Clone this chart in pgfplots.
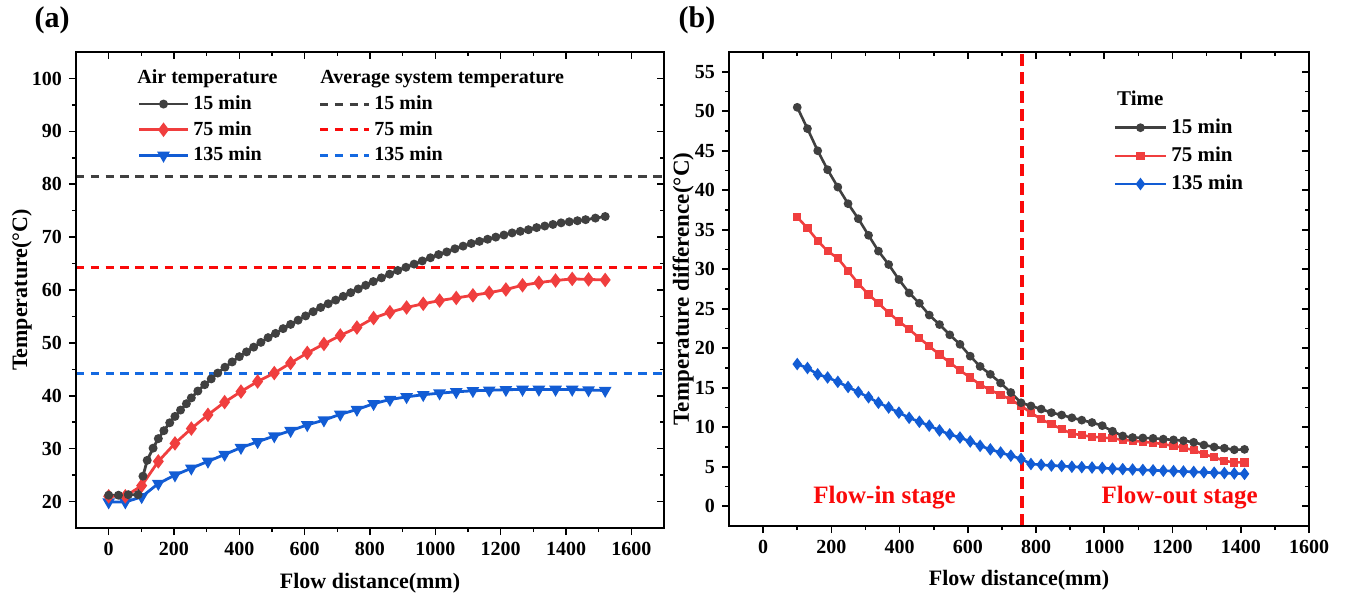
\documentclass[border=0pt]{standalone}
\usepackage{pgfplots}
\pgfplotsset{compat=1.18}
\usepackage{fontspec}
\setmainfont{Liberation Serif}

\definecolor{cK}{RGB}{64,64,64}
\definecolor{cR}{RGB}{240,62,62}
\definecolor{cB}{RGB}{18,92,212}
\definecolor{cRd}{RGB}{250,10,10}
\definecolor{cBd}{RGB}{20,105,225}

\pgfplotsset{
  base/.style={scale only axis, anchor=south west,
    axis line style={line width=1pt},
    major tick length=3.5pt, minor tick length=2pt,
    every tick/.style={black, line width=0.8pt},
    /pgf/number format/assume math mode=true,
    /pgf/number format/1000 sep={},
    ticklabel style={font=\bfseries\fontsize{10}{12}\selectfont},
    label style={font=\bfseries\fontsize{11}{13}\selectfont}},
  sK/.style={color=cK, line width=1.4pt, mark=*, mark size=1.5pt},
  sR/.style={color=cR, line width=1.4pt, mark=diamond*, mark size=2.5pt},
  sB/.style={color=cB, line width=1.4pt, mark=triangle*, mark size=2.3pt, mark options={rotate=180}},
  dK/.style={color=cK, line width=1.5pt, dash pattern=on 4.2pt off 3.2pt},
  dR/.style={color=cRd, line width=1.5pt, dash pattern=on 4.2pt off 3.2pt},
  dB/.style={color=cBd, line width=1.5pt, dash pattern=on 4.2pt off 3.2pt},
  tK/.style={color=cK, line width=1.3pt, mark=*, mark size=1.5pt},
  tR/.style={color=cR, line width=1.3pt, mark=square*, mark size=1.4pt},
  tB/.style={color=cB, line width=1.3pt, mark=diamond*, mark size=2.1pt},
}

\begin{document}
\begin{tikzpicture}[font=\bfseries]
\path[use as bounding box] (0pt,0pt) rectangle (673pt,-298pt);

\node[font=\bfseries\fontsize{15}{17}\selectfont] at (26pt,-10pt) {(a)};
\node[font=\bfseries\fontsize{15}{17}\selectfont] at (348.5pt,-10pt) {(b)};

% ---------------- Panel (a) ----------------
\begin{axis}[base, at={(38pt,-264pt)}, width=294pt, height=238pt,
  xmin=-100, xmax=1700, ymin=15, ymax=105,
  xtick={0,200,...,1600}, ytick={20,30,...,100},
  minor x tick num=1, minor y tick num=1,
  tick align=outside, xtick pos=bottom, ytick pos=left,
  xlabel={Flow distance(mm)}, ylabel={Temperature(°C)},
  xlabel style={at={(axis description cs:0.5,-0.115)}, anchor=center},
  ylabel style={at={(axis description cs:-0.092,0.5)}, anchor=center},
  legend columns=2, legend cell align=left,
  legend image code/.code={\draw[mark repeat=2,mark phase=2] plot coordinates {(0cm,0cm) (0.43cm,0cm) (0.86cm,0cm)};},
  legend style={draw=none, fill=none, at={(axis description cs:0.094,0.98)}, anchor=north west,
    font=\bfseries\fontsize{10}{12}\selectfont,
    /tikz/every even column/.append style={column sep=18.5pt},
    row sep=0.4pt},
]
\addlegendimage{empty legend}\addlegendentry{\hspace*{-28pt}Air temperature}
\addlegendimage{empty legend}\addlegendentry{\hspace*{-27pt}Average system temperature}
\addlegendimage{sK}\addlegendentry{15 min}
\addlegendimage{dK}\addlegendentry{15 min}
\addlegendimage{sR}\addlegendentry{75 min}
\addlegendimage{dR}\addlegendentry{75 min}
\addlegendimage{sB}\addlegendentry{135 min}
\addlegendimage{dB}\addlegendentry{135 min}

\addplot[dK, forget plot] coordinates {(-100,81.5) (1700,81.5)};
\addplot[dR, forget plot] coordinates {(-100,64.2) (1700,64.2)};
\addplot[dB, forget plot] coordinates {(-100,44.3) (1700,44.3)};

\addplot[sB, forget plot] coordinates {
(0,19.9) (51,19.9) (101,20.9) (152,23.4) (203,25.0) (253,26.3) (304,27.6) (355,28.9)
(405,30.2) (456,31.3) (507,32.4) (557,33.4) (608,34.5) (659,35.4) (709,36.5) (760,37.4)
(811,38.5) (861,39.3) (912,39.8) (963,40.2) (1013,40.5) (1064,40.75) (1115,40.95) (1165,41.05)
(1216,41.15) (1267,41.2) (1317,41.2) (1368,41.2) (1419,41.2) (1469,41.1) (1520,41.0)};

\addplot[sR, forget plot] coordinates {
(0,21.0) (51,21.0) (101,23.0) (152,27.6) (203,31.0) (253,33.8) (304,36.4) (355,38.8)
(405,40.8) (456,42.7) (507,44.3) (557,46.2) (608,48.1) (659,49.8) (709,51.4) (760,52.9)
(811,54.7) (861,55.8) (912,56.7) (963,57.4) (1013,58.0) (1064,58.5) (1115,59.0) (1165,59.5)
(1216,60.1) (1267,60.9) (1317,61.4) (1368,61.8) (1419,62.1) (1469,62.0) (1520,61.9)};

\addplot[sK, forget plot] coordinates {
(0,21.2) (30,21.2) (60,21.3) (90,21.3) (105,24.8) (118,27.8) (136,30.1) (152,31.9)
(169,33.4) (187,34.9) (203,36.1) (220,37.3) (238,38.5) (253,39.6) (273,40.9) (294,42.1)
(314,43.2) (334,44.3) (356,45.4) (378,46.4) (400,47.4) (422,48.3) (444,49.2) (466,50.1)
(488,51.0) (511,51.8) (534,52.7) (557,53.5) (580,54.3) (603,55.1) (626,55.9) (649,56.7)
(672,57.4) (695,58.1) (718,58.8) (741,59.5) (764,60.2) (787,60.9) (810,61.6) (835,62.3)
(860,63.0) (885,63.7) (910,64.3) (935,64.9) (960,65.5) (985,66.1) (1010,66.7) (1035,67.2)
(1060,67.8) (1085,68.3) (1110,68.8) (1135,69.2) (1160,69.6) (1185,70.0) (1210,70.4) (1235,70.8)
(1260,71.1) (1285,71.4) (1310,71.8) (1335,72.1) (1360,72.4) (1385,72.7) (1410,72.9) (1435,73.1)
(1460,73.3) (1490,73.6) (1520,73.9)};
\end{axis}

\begin{axis}[base, at={(38pt,-264pt)}, width=294pt, height=238pt,
  xmin=-100, xmax=1700, ymin=15, ymax=105,
  xtick={0,200,...,1600}, ytick={20,30,...,100},
  minor x tick num=1, minor y tick num=1,
  tick align=inside, xtick pos=top, ytick pos=right,
  xticklabels={}, yticklabels={}]
\end{axis}

% ---------------- Panel (b) ----------------
\begin{axis}[base, at={(364.5pt,-263pt)}, width=290pt, height=237pt,
  xmin=-100, xmax=1600, ymin=-2.5, ymax=57.5,
  xtick={0,200,...,1600}, ytick={0,5,...,55},
  minor x tick num=1, minor y tick num=1,
  tick align=outside, xtick pos=bottom, ytick pos=left,
  xlabel={Flow distance(mm)}, ylabel={Temperature difference(°C)},
  xlabel style={at={(axis description cs:0.5,-0.114)}, anchor=center},
  ylabel style={at={(axis description cs:-0.079,0.5)}, anchor=center, font=\bfseries\fontsize{11.5}{13}\selectfont},
  legend cell align=left,
  legend image code/.code={\draw[mark repeat=2,mark phase=2] plot coordinates {(0cm,0cm) (0.45cm,0cm) (0.9cm,0cm)};},
  legend style={draw=none, fill=none, at={(axis description cs:0.652,0.936)}, anchor=north west,
    font=\bfseries\fontsize{10.5}{12}\selectfont, row sep=1.3pt},
]
\addlegendimage{empty legend}\addlegendentry{\hspace*{-28pt}Time}
\addlegendimage{tK}\addlegendentry{15 min}
\addlegendimage{tR}\addlegendentry{75 min}
\addlegendimage{tB}\addlegendentry{135 min}

\addplot[color=cRd, line width=2pt, dash pattern=on 6pt off 3.2pt, forget plot] coordinates {(760,-2.5) (760,57.5)};

\addplot[tB, forget plot] coordinates {
(100,18.0) (130,17.5) (160,16.7) (189,16.3) (219,15.75) (249,15.1) (279,14.45) (309,13.8)
(338,13.1) (368,12.5) (398,11.85) (428,11.2) (458,10.7) (487,10.2) (517,9.6) (547,9.1)
(577,8.7) (607,8.2) (636,7.65) (666,7.2) (696,6.8) (726,6.4) (756,6.0) (785,5.35)
(815,5.25) (845,5.15) (875,5.1) (905,5.0) (934,4.95) (964,4.9) (994,4.85) (1024,4.75)
(1054,4.7) (1083,4.65) (1113,4.6) (1143,4.55) (1173,4.5) (1203,4.45) (1232,4.4) (1262,4.35)
(1292,4.3) (1322,4.25) (1352,4.2) (1381,4.15) (1411,4.1)};

\addplot[tR, forget plot] coordinates {
(100,36.6) (130,35.2) (160,33.6) (189,32.3) (219,31.4) (249,29.8) (279,28.2) (309,26.8)
(338,25.7) (368,24.5) (398,23.4) (428,22.4) (458,21.3) (487,20.25) (517,19.2) (547,18.2)
(577,17.2) (607,16.3) (636,15.4) (666,14.7) (696,14.1) (726,13.5) (756,12.7) (785,11.85)
(815,11.0) (845,10.4) (875,9.75) (905,9.2) (934,9.0) (964,8.8) (994,8.7) (1024,8.6)
(1054,8.4) (1083,8.3) (1113,8.15) (1143,8.05) (1173,7.85) (1203,7.65) (1232,7.4) (1262,7.1)
(1292,6.6) (1322,6.2) (1352,5.75) (1381,5.55) (1411,5.55)};

\addplot[tK, forget plot] coordinates {
(100,50.5) (130,47.8) (160,45.0) (189,42.6) (219,40.4) (249,38.3) (279,36.4) (309,34.3)
(338,32.3) (368,30.6) (398,28.7) (428,27.0) (458,25.7) (487,24.2) (517,23.0) (547,21.7)
(577,20.5) (607,19.0) (636,17.7) (666,16.7) (696,15.6) (726,14.4) (756,13.1) (785,12.7)
(815,12.3) (845,11.85) (875,11.55) (905,11.2) (934,10.9) (964,10.6) (994,10.2) (1024,9.5)
(1054,8.9) (1083,8.7) (1113,8.65) (1143,8.6) (1173,8.5) (1203,8.4) (1232,8.3) (1262,8.1)
(1292,7.75) (1322,7.5) (1352,7.35) (1381,7.15) (1411,7.2)};

\node[text=cRd, font=\bfseries\fontsize{12.5}{14}\selectfont] at (axis cs:356,1.1) {Flow-in stage};
\node[text=cRd, font=\bfseries\fontsize{12.5}{14}\selectfont] at (axis cs:1221,1.1) {Flow-out stage};
\end{axis}

\begin{axis}[base, at={(364.5pt,-263pt)}, width=290pt, height=237pt,
  xmin=-100, xmax=1600, ymin=-2.5, ymax=57.5,
  xtick={0,200,...,1600}, ytick={0,5,...,55},
  minor x tick num=1, minor y tick num=1,
  tick align=inside, xtick pos=top, ytick pos=right,
  xticklabels={}, yticklabels={}]
\end{axis}
\end{tikzpicture}
\end{document}
